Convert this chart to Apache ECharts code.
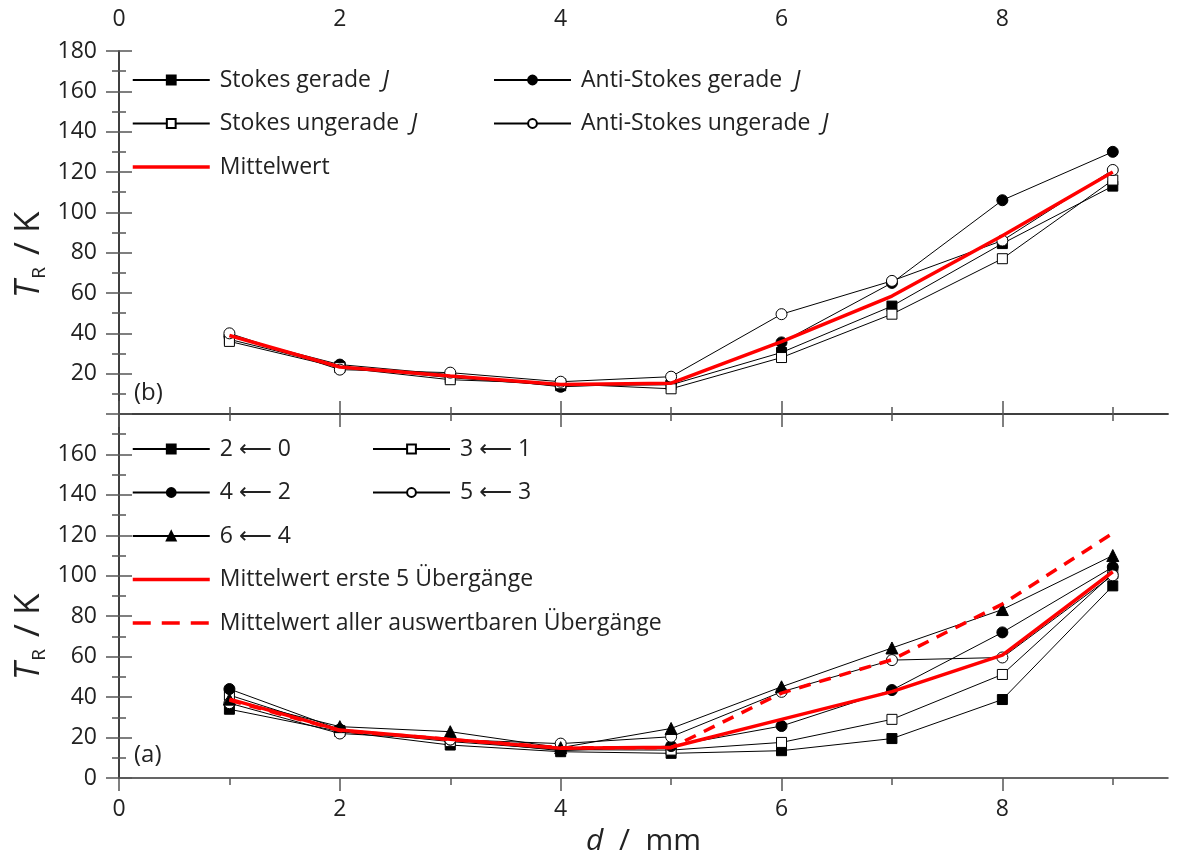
<!DOCTYPE html>
<html>
<head>
<meta charset="utf-8">
<script src="https://cdn.jsdelivr.net/npm/echarts@6/dist/echarts.min.js"></script>
<style>
  html, body { margin: 0; padding: 0; background: #fff; }
  #chart { width: 1182px; height: 858px; }
</style>
</head>
<body>
<div id="chart"></div>
<script>
// Distance d / mm
const dValues = [1, 2, 3, 4, 5, 6, 7, 8, 9];

// Panel (b): rotational temperature from Stokes / Anti-Stokes lines
const stokesGerade       = [37, 23.5, 18, 14, 14.5, 30.5, 53.5, 84.5, 113];
const antiStokesGerade   = [38.5, 24.5, 19.5, 13.5, 15.5, 35.5, 65, 106, 130];
const stokesUngerade     = [36, 23, 17, 15, 12.5, 28, 49.5, 77, 116];
const antiStokesUngerade = [40, 22, 20.5, 16, 18.5, 49.5, 66, 86, 121];
const mittelwertB        = [38.9, 23.3, 18.8, 14.6, 15.3, 35.9, 58.5, 88.4, 120];

// Panel (a): rotational temperature per transition
const trans20 = [34, 23, 16.3, 13, 12.2, 13.5, 19.5, 38.8, 95];
const trans31 = [41, 23.5, 18, 14, 13.8, 17.6, 29, 51.2, 101];
const trans42 = [44, 24, 19, 13.5, 15.8, 25.7, 43.5, 72, 104.3];
const trans53 = [37, 22, 19, 17, 20.4, 42.6, 58.3, 59.6, 100.2];
const trans64 = [39, 25.4, 22.9, 15, 24.5, 45.1, 64.3, 83.3, 110];
const mittelwertErste5 = [39, 23.7, 19.1, 14.7, 15.2, 29, 42.7, 60.8, 102];
const mittelwertAlle   = [38.5, 23.5, 19, 15, 15, 42, 58.5, 86, 121];

// Axis ticks
const xMajorTicks = [0, 2, 4, 6, 8];
const xMinorTicks = [1, 3, 5, 7, 9];

const FONT = '"Open Sans", "DejaVu Sans", sans-serif';
const TEXT_COLOR = '#222';
const AXIS_COLOR = '#333';
const TICK_COLOR = '#555';
const RED = '#ff0000';

function pairs(ys) { return dValues.map((x, i) => [x, ys[i]]); }

function blackSeries(name, ys, symbol, xi, yi, size) {
  const open = symbol.startsWith('empty');
  return {
    name, type: 'line', data: pairs(ys), xAxisIndex: xi, yAxisIndex: yi,
    symbol: open ? (symbol === 'emptyCircle' ? 'circle' : 'rect') : symbol,
    symbolSize: size,
    lineStyle: { color: '#000', width: 1 },
    itemStyle: { color: open ? '#fff' : '#000', borderColor: '#000', borderWidth: 1 },
    emphasis: { disabled: true }, animation: false, z: 3
  };
}

const DASH = [12, 9];
function redSeries(name, ys, dashed, xi, yi) {
  return {
    name, type: 'line', data: pairs(ys), xAxisIndex: xi, yAxisIndex: yi,
    symbol: 'none',
    lineStyle: { color: RED, width: 3.5, type: dashed ? DASH : 'solid' },
    itemStyle: { color: RED },
    emphasis: { disabled: true }, animation: false, z: 5
  };
}

function xAxisDef(grid, pos, ticks, len, showLine, labels, extra) {
  return Object.assign({
    type: 'value', gridIndex: grid, position: pos, min: 0, max: 9.5,
    axisLine: { show: showLine, lineStyle: { color: AXIS_COLOR, width: 1.5 } },
    axisTick: { show: true, inside: false, length: len, customValues: ticks,
                lineStyle: { color: TICK_COLOR, width: 1.5 } },
    axisLabel: labels ? { show: true, customValues: ticks, fontFamily: FONT, fontSize: 23,
                          color: TEXT_COLOR, margin: 20 } : { show: false },
    splitLine: { show: false }
  }, extra || {});
}

function yAxisDef(grid, pos, showLabels, hideMin, hideMax) {
  return {
    type: 'value', gridIndex: grid, position: pos, min: 0, max: 180, interval: 20,
    axisLine: { show: true, lineStyle: { color: AXIS_COLOR, width: 1.5 } },
    axisTick: { show: true, inside: false, length: 13, lineStyle: { color: TICK_COLOR, width: 1.5 } },
    minorTick: { show: true, splitNumber: 2, length: 7, lineStyle: { color: TICK_COLOR, width: 1.5 } },
    axisLabel: showLabels ? { show: true, fontFamily: FONT, fontSize: 23, color: TEXT_COLOR, margin: 22,
                              showMinLabel: !hideMin, showMaxLabel: !hideMax } : { show: false },
    splitLine: { show: false }, minorSplitLine: { show: false }
  };
}

// Rotated "T_R / K" axis title
function yTitle(cx, cy) {
  return {
    type: 'text', x: cx, y: cy, rotation: Math.PI / 2, silent: true,
    style: {
      text: '{i|T}{s|R}{n| / K}', align: 'center', verticalAlign: 'middle',
      rich: {
        i: { fontFamily: FONT, fontStyle: 'italic', fontSize: 35, fill: TEXT_COLOR, lineHeight: 40 },
        s: { fontFamily: FONT, fontSize: 19, fill: TEXT_COLOR, lineHeight: 40, verticalAlign: 'bottom',
             padding: [14, 3, 0, 2] },
        n: { fontFamily: FONT, fontSize: 35, fill: TEXT_COLOR, lineHeight: 40 }
      }
    }
  };
}

const legendText = {
  fontFamily: FONT, fontSize: 23, color: TEXT_COLOR, lineHeight: 26, padding: [0, 0, 0, 5],
  rich: { i: { fontFamily: FONT, fontStyle: 'italic', fontSize: 23, color: TEXT_COLOR, lineHeight: 26 } }
};
const RED_LEGEND = {
  'Mittelwert': 'solid',
  'Mittelwert erste 5 Übergänge': 'solid',
  'Mittelwert aller auswertbaren Übergänge': [18, 11]
};
function legendDef(names, left, top) {
  return {
    data: names.map(n => RED_LEGEND[n]
      ? { name: n, itemStyle: { opacity: 0 }, lineStyle: { color: RED, width: 3.5, type: RED_LEGEND[n] } }
      : n),
    left, top, orient: 'vertical', itemWidth: 77, itemHeight: 11, itemGap: 17.5,
    padding: 0, selectedMode: false, textStyle: legendText,
    formatter: n => n.endsWith(' J') ? n.slice(0, -2) + '  {i|J}' : n
  };
}

const panelLabel = { fontFamily: FONT, fontSize: 24, fontWeight: 'normal', color: TEXT_COLOR };

const option = {
  backgroundColor: '#fff',
  animation: false,
  grid: [
    { left: 119, right: 14, top: 51, height: 363 },
    { left: 119, right: 14, top: 414, height: 364 }
  ],
  title: [
    { text: '(b)', left: 129, top: 376, textStyle: panelLabel },
    { text: '(a)', left: 129, top: 738, textStyle: panelLabel }
  ],
  graphic: [yTitle(29, 255), yTitle(29, 637)],
  legend: [
    legendDef(['Stokes gerade J', 'Stokes ungerade J', 'Mittelwert'], 131, 67),
    legendDef(['Anti-Stokes gerade J', 'Anti-Stokes ungerade J'], 493, 67),
    legendDef(['2 ⟵ 0', '4 ⟵ 2', '6 ⟵ 4', 'Mittelwert erste 5 Übergänge',
               'Mittelwert aller auswertbaren Übergänge'], 131, 436),
    legendDef(['3 ⟵ 1', '5 ⟵ 3'], 372, 436)
  ],
  xAxis: [
    xAxisDef(0, 'top', xMajorTicks, 13, true, true),
    xAxisDef(0, 'top', xMinorTicks, 7, false, false),
    xAxisDef(0, 'bottom', xMajorTicks, 13, true, false),
    xAxisDef(0, 'bottom', xMinorTicks, 7, false, false),
    xAxisDef(1, 'bottom', xMajorTicks, 13, true, true, {
      name: '{i|d}{n|  /  mm}', nameLocation: 'middle', nameGap: 48,
      nameTextStyle: {
        rich: {
          i: { fontFamily: FONT, fontStyle: 'italic', fontSize: 30, color: TEXT_COLOR },
          n: { fontFamily: FONT, fontSize: 30, color: TEXT_COLOR }
        }
      }
    }),
    xAxisDef(1, 'bottom', xMinorTicks, 7, false, false)
  ],
  yAxis: [
    yAxisDef(0, 'left', true, true, false),
    yAxisDef(0, 'right', false),
    yAxisDef(1, 'left', true, false, true),
    yAxisDef(1, 'right', false)
  ],
  series: [
    blackSeries('Stokes gerade J', stokesGerade, 'rect', 0, 0, 10),
    blackSeries('Anti-Stokes gerade J', antiStokesGerade, 'circle', 0, 0, 11),
    blackSeries('Stokes ungerade J', stokesUngerade, 'emptyRect', 0, 0, 10),
    blackSeries('Anti-Stokes ungerade J', antiStokesUngerade, 'emptyCircle', 0, 0, 11),
    redSeries('Mittelwert', mittelwertB, false, 0, 0),

    blackSeries('2 ⟵ 0', trans20, 'rect', 4, 2, 10),
    blackSeries('3 ⟵ 1', trans31, 'emptyRect', 4, 2, 10),
    blackSeries('4 ⟵ 2', trans42, 'circle', 4, 2, 11),
    blackSeries('5 ⟵ 3', trans53, 'emptyCircle', 4, 2, 11),
    blackSeries('6 ⟵ 4', trans64, 'triangle', 4, 2, 12),
    redSeries('Mittelwert erste 5 Übergänge', mittelwertErste5, false, 4, 2),
    redSeries('Mittelwert aller auswertbaren Übergänge', mittelwertAlle, true, 4, 2)
  ]
};

const chart = echarts.init(document.getElementById('chart'), null, { renderer: 'canvas' });
chart.setOption(option);
</script>
</body>
</html>
